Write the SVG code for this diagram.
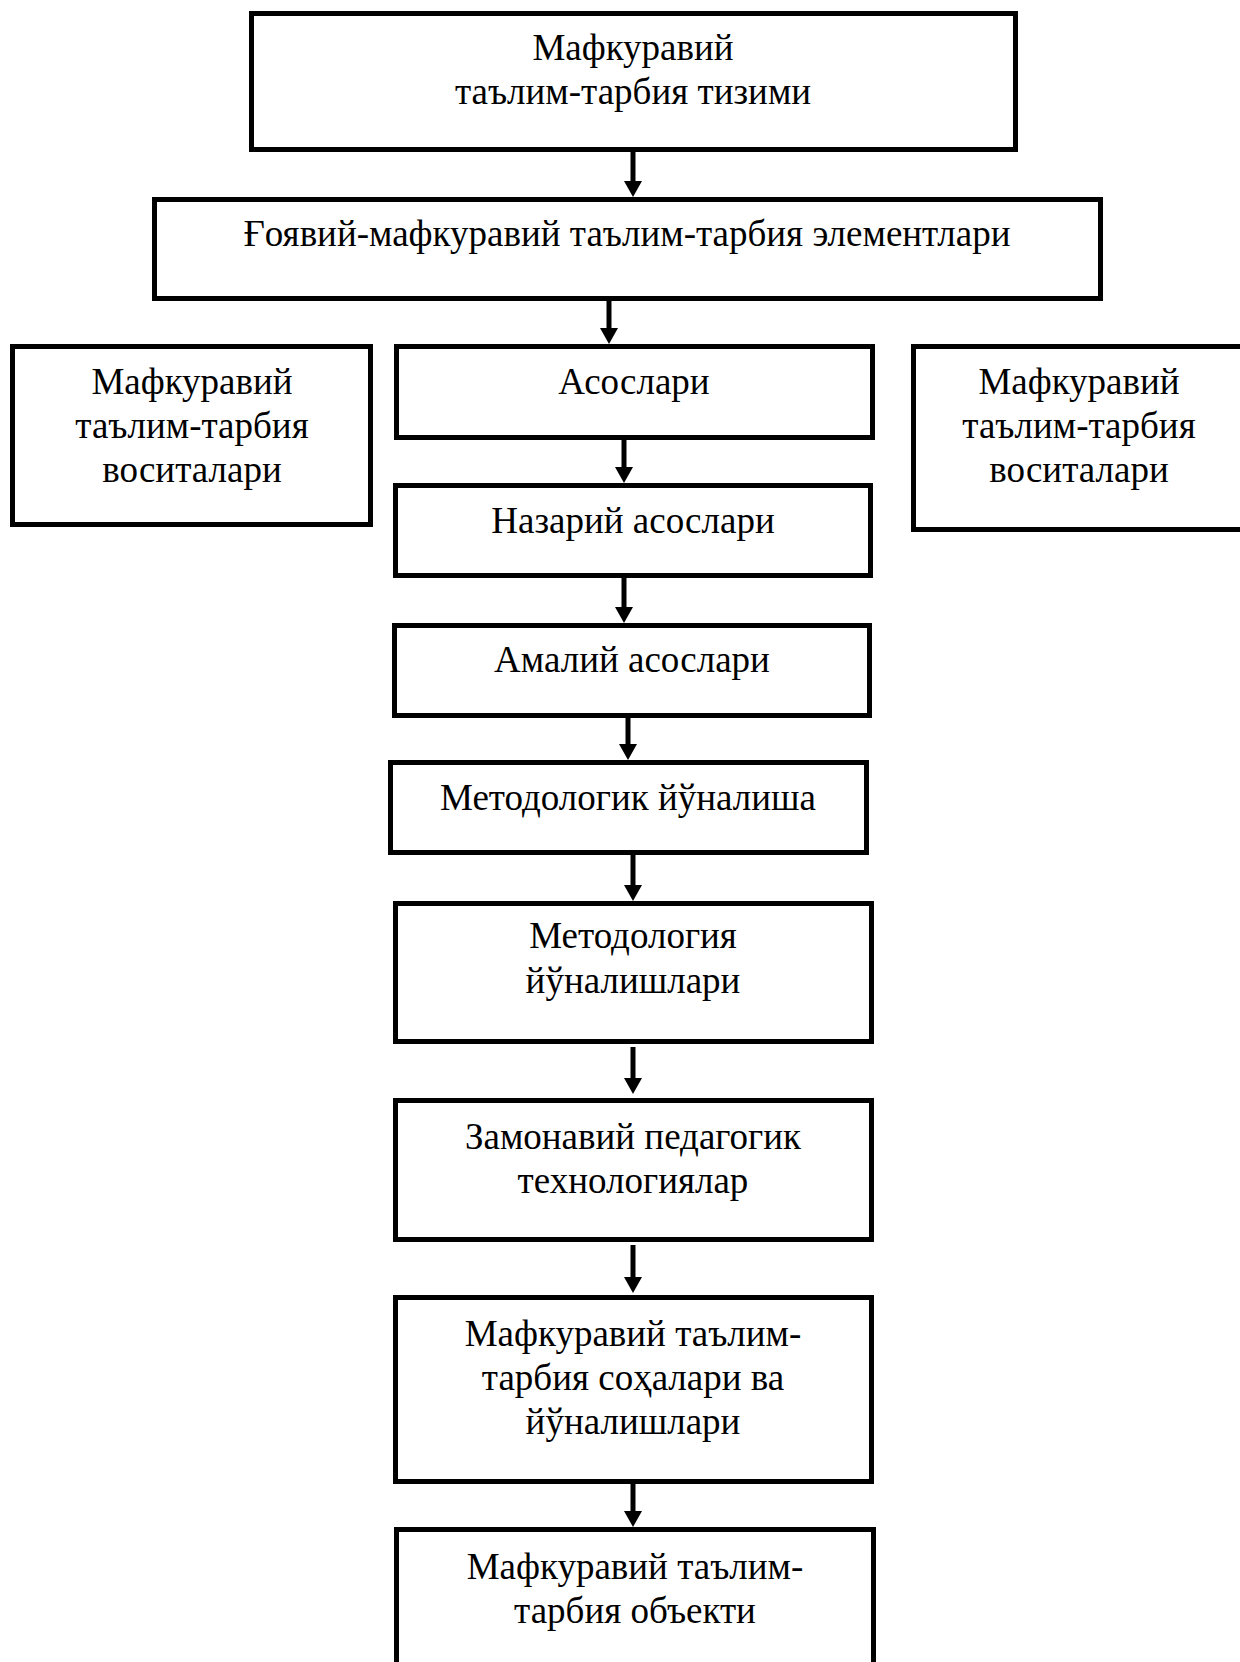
<svg xmlns="http://www.w3.org/2000/svg" width="1240" height="1662" viewBox="0 0 1240 1662">
<defs>
<style>
.box{fill:#fff;stroke:#000;stroke-width:5}
.t{font-family:"Liberation Serif","Times New Roman",serif;font-size:37px;fill:#000;text-anchor:middle}
.c{stroke:#000;stroke-width:5;fill:none}
</style>
<marker id="ah" markerUnits="userSpaceOnUse" viewBox="0 0 16 18" markerWidth="16" markerHeight="18" refX="0" refY="9" orient="auto">
<path d="M0,0 L16,9 L0,18 z" fill="#000"/>
</marker>
</defs>
<rect width="1240" height="1662" fill="#fff"/>
<g id="connectors">
<line class="c" x1="633" y1="152" x2="633" y2="181" marker-end="url(#ah)"/>
<line class="c" x1="609" y1="301" x2="609" y2="328" marker-end="url(#ah)"/>
<line class="c" x1="624" y1="440" x2="624" y2="467" marker-end="url(#ah)"/>
<line class="c" x1="624" y1="578" x2="624" y2="607" marker-end="url(#ah)"/>
<line class="c" x1="628" y1="718" x2="628" y2="744" marker-end="url(#ah)"/>
<line class="c" x1="633" y1="855" x2="633" y2="885" marker-end="url(#ah)"/>
<line class="c" x1="633" y1="1047" x2="633" y2="1078" marker-end="url(#ah)"/>
<line class="c" x1="633" y1="1245" x2="633" y2="1277" marker-end="url(#ah)"/>
<line class="c" x1="633" y1="1484" x2="633" y2="1511" marker-end="url(#ah)"/>
</g>
<g id="n1"><rect class="box" x="251.5" y="13.5" width="764" height="136"/>
<text class="t" x="633" y="60">Мафкуравий</text><text class="t" x="633" y="104">таълим-тарбия тизими</text></g>
<g id="n2"><rect class="box" x="154.5" y="199.5" width="946" height="99"/>
<text class="t" x="627" y="246">Ғоявий-мафкуравий таълим-тарбия элементлари</text></g>
<g id="n3"><rect class="box" x="12.5" y="346.5" width="358" height="178"/>
<text class="t" x="192" y="394">Мафкуравий</text><text class="t" x="192" y="438">таълим-тарбия</text><text class="t" x="192" y="482">воситалари</text></g>
<g id="n4"><rect class="box" x="396.5" y="346.5" width="476" height="91"/>
<text class="t" x="634" y="394">Асослари</text></g>
<g id="n5"><rect class="box" x="913.5" y="346.5" width="335" height="183"/>
<text class="t" x="1079" y="394">Мафкуравий</text><text class="t" x="1079" y="438">таълим-тарбия</text><text class="t" x="1079" y="482">воситалари</text></g>
<g id="n6"><rect class="box" x="395.5" y="485.5" width="475" height="90"/>
<text class="t" x="633" y="533">Назарий асослари</text></g>
<g id="n7"><rect class="box" x="394.5" y="625.5" width="475" height="90"/>
<text class="t" x="632" y="672">Амалий асослари</text></g>
<g id="n8"><rect class="box" x="390.5" y="762.5" width="476" height="90"/>
<text class="t" x="628" y="810">Методологик йўналиша</text></g>
<g id="n9"><rect class="box" x="395.5" y="903.5" width="476" height="138"/>
<text class="t" x="633" y="948">Методология</text><text class="t" x="633" y="993">йўналишлари</text></g>
<g id="n10"><rect class="box" x="395.5" y="1100.5" width="476" height="139"/>
<text class="t" x="633" y="1149">Замонавий педагогик</text><text class="t" x="633" y="1193">технологиялар</text></g>
<g id="n11"><rect class="box" x="395.5" y="1297.5" width="476" height="184"/>
<text class="t" x="633" y="1346">Мафкуравий таълим-</text><text class="t" x="633" y="1390">тарбия соҳалари ва</text><text class="t" x="633" y="1434">йўналишлари</text></g>
<g id="n12"><rect class="box" x="396.5" y="1529.5" width="477" height="150"/>
<text class="t" x="635" y="1579">Мафкуравий таълим-</text><text class="t" x="635" y="1623">тарбия объекти</text></g>
</svg>
